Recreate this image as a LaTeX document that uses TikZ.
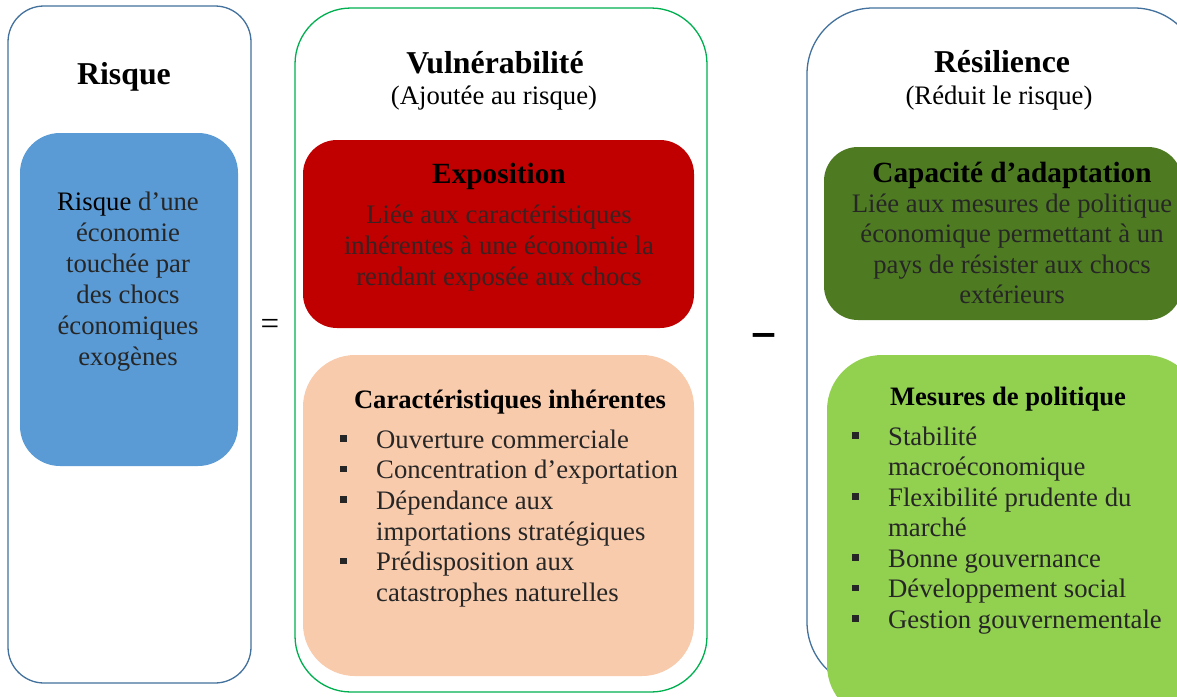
\documentclass[tikz,border=0pt]{standalone}
\usepackage{fontspec}
\setmainfont{Liberation Serif}
\definecolor{outblue}{HTML}{41719C}
\definecolor{outgreen}{HTML}{00B050}
\definecolor{riskblue}{HTML}{5B9BD5}
\definecolor{expred}{HTML}{C00000}
\definecolor{peach}{HTML}{F8CBAD}
\definecolor{darkgreen}{HTML}{4E7B22}
\definecolor{lightgreen}{HTML}{92D050}
\definecolor{txt}{HTML}{262626}
\definecolor{redtxt}{HTML}{3A2222}
\newcommand\bulitem[1]{\makebox[36pt][l]{\raisebox{6.3pt}{\rule{6.7pt}{6.7pt}}}#1}
\begin{document}
\begin{tikzpicture}[x=1pt,y=-1pt,
  outbox/.style={line width=1.3pt, fill=white},
  ttl/.style={font=\fontsize{31.8}{36}\selectfont\bfseries, anchor=base, inner sep=0pt, text=black},
  subttl/.style={font=\fontsize{29.3}{33}\selectfont\bfseries, anchor=base, inner sep=0pt, text=black},
  listttl/.style={font=\fontsize{26.6}{31}\selectfont\bfseries, anchor=base, inner sep=0pt, text=black},
  body/.style={font=\fontsize{26.7}{31}\selectfont, anchor=base, inner sep=0pt, text=txt},
  item/.style={font=\fontsize{26.7}{31}\selectfont, anchor=base west, inner sep=0pt, text=txt}]
\useasboundingbox (0,0) rectangle (1177,696);
\clip (0,0) rectangle (1177,696);
\fill[white] (0,0) rectangle (1177,696);

% outer boxes
\draw[outbox, draw=outblue, rounded corners=36pt] (8,6) rectangle (251,683);
\draw[outbox, draw=outgreen, rounded corners=56pt] (295,8) rectangle (707,692);
\draw[outbox, draw=outblue, rounded corners=66pt] (807,8) rectangle (1200,688);

% inner boxes
\fill[riskblue, rounded corners=40pt] (20,133) rectangle (238,466);
\fill[expred, rounded corners=34pt] (303,140) rectangle (694,328);
\fill[peach, rounded corners=52pt] (303,355) rectangle (694,676);
\fill[darkgreen, rounded corners=34pt] (824,147) rectangle (1182,320);
\fill[lightgreen, rounded corners=55pt] (827,355) rectangle (1200,720);

% column titles
\node[ttl] (trisk) at (124,84) {Risque};
\node[ttl] (tvul) at (495,73) {Vulnérabilité};
\node[body, text=black] (svul) at (494,104) {(Ajoutée au risque)};
\node[ttl] (tres) at (1002,72) {Résilience};
\node[body, text=black] (sres) at (999,104) {(Réduit le risque)};

% risk box text
\node[body] (r1) at (128,210) {\textcolor{black}{Risque} d’une};
\node[body] (r2) at (128,241) {économie};
\node[body] (r3) at (128,272) {touchée par};
\node[body] (r4) at (128,303) {des chocs};
\node[body] (r5) at (128,334) {économiques};
\node[body] (r6) at (128,365) {exogènes};

% operators
\node[font=\fontsize{33}{33}\selectfont, inner sep=0pt] (eq) at (270,327) {=};
\node[font=\fontsize{40}{40}\selectfont\bfseries, inner sep=0pt, anchor=base] (minus) at (764,348) {\scalebox{1.05}[1.4]{–}};

% exposition
\node[subttl] (texp) at (499,183) {Exposition};
\node[body, text=redtxt] (e1) at (499,223) {Liée aux caractéristiques};
\node[body, text=redtxt] (e2) at (499,254) {inhérentes à une économie la};
\node[body, text=redtxt] (e3) at (499,285) {rendant exposée aux chocs};

% caracteristiques
\node[listttl] (tcar) at (510,408) {Caractéristiques inhérentes};
\node[item] (c1) at (340,448) {\bulitem{Ouverture commerciale}};
\node[item] (c2) at (340,478.7) {\bulitem{Concentration d’exportation}};
\node[item] (c3) at (340,509.4) {\bulitem{Dépendance aux}};
\node[item] (c4) at (376,540) {importations stratégiques};
\node[item] (c5) at (340,570.5) {\bulitem{Prédisposition aux}};
\node[item] (c6) at (376,601) {catastrophes naturelles};

% capacite
\node[subttl] (tcap) at (1012,182) {Capacité d’adaptation};
\node[body] (a1) at (1012,212) {Liée aux mesures de politique};
\node[body] (a2) at (1012,242.5) {économique permettant à un};
\node[body] (a3) at (1012,273) {pays de résister aux chocs};
\node[body] (a4) at (1012,303.5) {extérieurs};

% mesures
\node[listttl] (tmes) at (1008,405) {Mesures de politique};
\node[item] (m1) at (852,445) {\bulitem{Stabilité}};
\node[item] (m2) at (888,475.5) {macroéconomique};
\node[item] (m3) at (852,506) {\bulitem{Flexibilité prudente du}};
\node[item] (m4) at (888,536.5) {marché};
\node[item] (m5) at (852,567) {\bulitem{Bonne gouvernance}};
\node[item] (m6) at (852,597.5) {\bulitem{Développement social}};
\node[item] (m7) at (852,628) {\bulitem{Gestion gouvernementale}};
\end{tikzpicture}
\end{document}
